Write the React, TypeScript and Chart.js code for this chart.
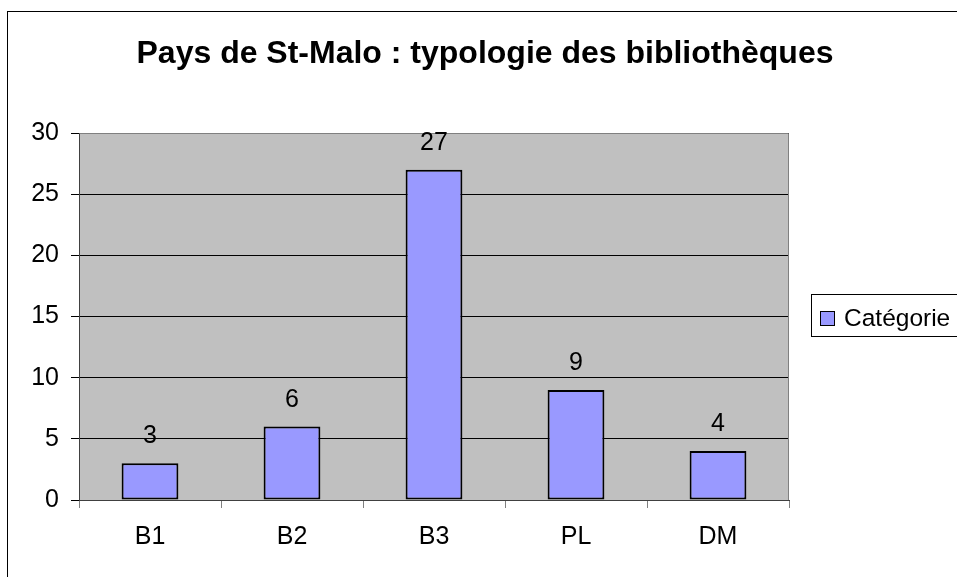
import React, { useEffect, useRef } from "react";
import { Chart, registerables } from "chart.js";

Chart.register(...registerables);

const categories: string[] = ["B1", "B2", "B3", "PL", "DM"];
const values: number[] = [3, 6, 27, 9, 4];
const seriesName = "Catégorie";
const titleText = "Pays de St-Malo : typologie des bibliothèques";
const yMin = 0;
const yMax = 30;
const yStep = 5;

const FONT = "Arial, 'Liberation Sans', sans-serif";

const decor = {
  id: "decor",
  beforeDraw(chart: any) {
    const ctx = chart.ctx;
    const { left, top, right, bottom } = chart.chartArea;
    ctx.save();
    ctx.fillStyle = "#ffffff";
    ctx.fillRect(0, 0, chart.width, chart.height);
    ctx.strokeStyle = "#000000";
    ctx.lineWidth = 1;
    ctx.strokeRect(7.5, 11.5, 1200, 1200);
    ctx.fillStyle = "#C0C0C0";
    ctx.fillRect(left, top, right - left, bottom - top);
    ctx.restore();
  },
  beforeDatasetsDraw(chart: any) {
    const ctx = chart.ctx;
    const { left, top, right, bottom } = chart.chartArea;
    ctx.save();
    ctx.strokeStyle = "#808080";
    ctx.lineWidth = 1;
    ctx.beginPath();
    ctx.moveTo(left + 0.5, top + 0.5);
    ctx.lineTo(right - 0.5, top + 0.5);
    ctx.lineTo(right - 0.5, bottom);
    ctx.stroke();
    ctx.restore();
  },
  afterDraw(chart: any) {
    const ctx = chart.ctx;
    ctx.save();
    // title
    ctx.fillStyle = "#000000";
    ctx.font = `bold 32px ${FONT}`;
    ctx.textAlign = "center";
    ctx.textBaseline = "alphabetic";
    ctx.fillText(titleText, 485, 63);
    // data labels
    ctx.font = `25px ${FONT}`;
    const meta = chart.getDatasetMeta(0);
    meta.data.forEach((el: any, i: number) => {
      ctx.fillText(String(chart.data.datasets[0].data[i]), el.x, el.y - 20);
    });
    // legend
    ctx.strokeStyle = "#000000";
    ctx.lineWidth = 1;
    ctx.strokeRect(811.5, 294.5, 300, 42);
    ctx.fillStyle = "#9999FF";
    ctx.fillRect(821, 312, 13, 13);
    ctx.strokeRect(820.5, 311.5, 14, 14);
    ctx.fillStyle = "#000000";
    ctx.textAlign = "left";
    ctx.font = `24.5px ${FONT}`;
    ctx.fillText(seriesName, 844, 326);
    ctx.restore();
  },
};

export default function App() {
  const ref = useRef<HTMLCanvasElement>(null);
  useEffect(() => {
    document.body.style.margin = "0";
    document.body.style.overflow = "hidden";
    const chart = new Chart(ref.current as HTMLCanvasElement, {
      type: "bar",
      data: {
        labels: categories,
        datasets: [
          {
            label: seriesName,
            data: values,
            backgroundColor: "#9999FF",
            borderColor: "#000000",
            borderWidth: 2,
            borderSkipped: false,
            barPercentage: 0.4,
            categoryPercentage: 1,
          },
        ],
      },
      options: {
        responsive: false,
        animation: false,
        layout: { padding: { top: 133, right: 168, bottom: 0, left: 0 } },
        plugins: {
          legend: { display: false },
          title: { display: false },
          tooltip: { enabled: false },
        },
        scales: {
          x: {
            ticks: { color: "#000", font: { family: FONT, size: 25 }, padding: 14 },
            grid: { drawOnChartArea: false, tickLength: 8, color: "#808080" },
            border: { color: "#404040" },
            afterFit: (s: any) => {
              s.height = 77;
            },
          },
          y: {
            min: yMin,
            max: yMax,
            ticks: { stepSize: yStep, color: "#000", font: { family: FONT, size: 25 }, padding: 12 },
            grid: { color: "#000000", tickLength: 8, lineWidth: 1 },
            border: { color: "#404040" },
            afterFit: (s: any) => {
              s.width = 79;
            },
          },
        },
      },
      plugins: [decor],
    });
    return () => chart.destroy();
  }, []);
  return (
    <div style={{ position: "fixed", left: 0, top: 0, width: 957, height: 577 }}>
      <canvas ref={ref} width={957} height={577} style={{ display: "block" }} />
    </div>
  );
}
